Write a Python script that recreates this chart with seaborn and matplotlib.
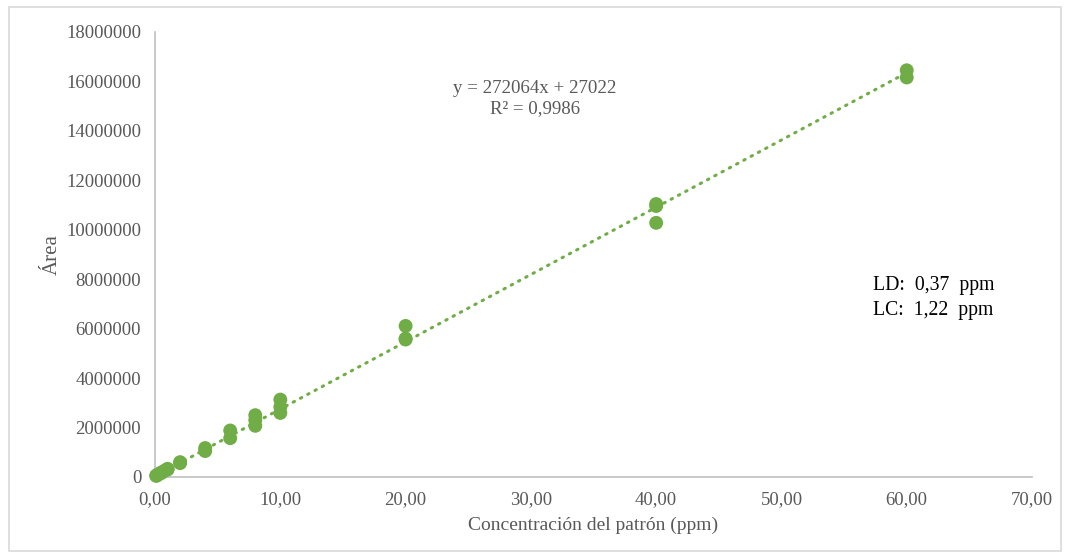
import numpy as np
import pandas as pd
import matplotlib
matplotlib.use("Agg")
import matplotlib.pyplot as plt
import seaborn as sns
from matplotlib.patches import Rectangle
from matplotlib.ticker import FuncFormatter

# data
conc = [0.1, 0.1, 0.25, 0.25, 0.5, 0.5, 0.75, 1.0, 1.0,
        2.0, 2.0, 4.0, 4.0, 6.0, 6.0, 8.0, 8.0, 8.0,
        10.0, 10.0, 10.0, 20.0, 20.0, 20.0, 40.0, 40.0, 40.0, 60.0, 60.0]
area = [60000, 45000, 110000, 95000, 180000, 160000, 250000, 330000, 300000,
        600000, 560000, 1170000, 1050000, 1880000, 1570000, 2500000, 2300000, 2070000,
        3130000, 2830000, 2590000, 6110000, 5600000, 5560000, 11040000, 10960000, 10280000, 16450000, 16160000]
slope = 272064
intercept = 27022
r2_text = "0,9986"
ld_text = "LD:  0,37  ppm"
lc_text = "LC:  1,22  ppm"

green = "#70AD47"
gray_txt = "#595959"

df = pd.DataFrame({"conc": conc, "area": area})
fit_x = np.array([0.0, max(conc)])
fit = pd.DataFrame({"conc": fit_x, "area": slope*fit_x + intercept})

sns.set_style("white")
plt.rcParams["font.family"] = ["Liberation Serif", "DejaVu Serif"]

fig = plt.figure(figsize=(10.7, 5.58), dpi=100)
ax = fig.add_axes([0.1449, 0.1452, 0.8196, 0.7975])

sns.lineplot(data=fit, x="conc", y="area", ax=ax, color=green, lw=2.2,
             linestyle=(0, (0.5, 2.2)), dash_capstyle="round")
sns.scatterplot(data=df, x="conc", y="area", ax=ax, color=green, s=100,
                edgecolor="none", zorder=3, clip_on=False)

ax.set_xlim(0, 70)
ax.set_ylim(0, 18000000)
ax.set_xticks(np.arange(0, 71, 10))
ax.set_yticks(np.arange(0, 18000001, 2000000))
ax.xaxis.set_major_formatter(FuncFormatter(lambda v, p: f"{v:.2f}".replace(".", ",")))
ax.yaxis.set_major_formatter(FuncFormatter(lambda v, p: f"{int(v)}"))
ax.tick_params(axis="both", length=0, labelsize=13.5, colors=gray_txt)
ax.tick_params(axis="y", pad=10)
ax.tick_params(axis="x", pad=10)
for s in ["top", "right"]:
    ax.spines[s].set_visible(False)
for s in ["left", "bottom"]:
    ax.spines[s].set_color("#BFBFBF")
    ax.spines[s].set_linewidth(1.2)

ax.set_xlabel("Concentración del patrón (ppm)", fontsize=14, color=gray_txt, labelpad=6)
ax.set_ylabel("Área", fontsize=15, color=gray_txt, labelpad=3)

ax.text(0.433, 0.8506, f"y = {slope}x + {intercept}\nR² = {r2_text}",
        transform=ax.transAxes, ha="center", va="center", fontsize=13.6,
        color=gray_txt, linespacing=1.2)
ax.text(0.8187, 0.402, f"{ld_text}\n{lc_text}", transform=ax.transAxes,
        ha="left", va="center", fontsize=14.2, color="black", linespacing=1.45)

fig.patches.append(Rectangle((9/1070, 7/558), 1052/1070, 544/558,
                             transform=fig.transFigure, fill=False,
                             edgecolor="#D9D9D9", lw=1.2))

fig.savefig("out.png", dpi=100)
